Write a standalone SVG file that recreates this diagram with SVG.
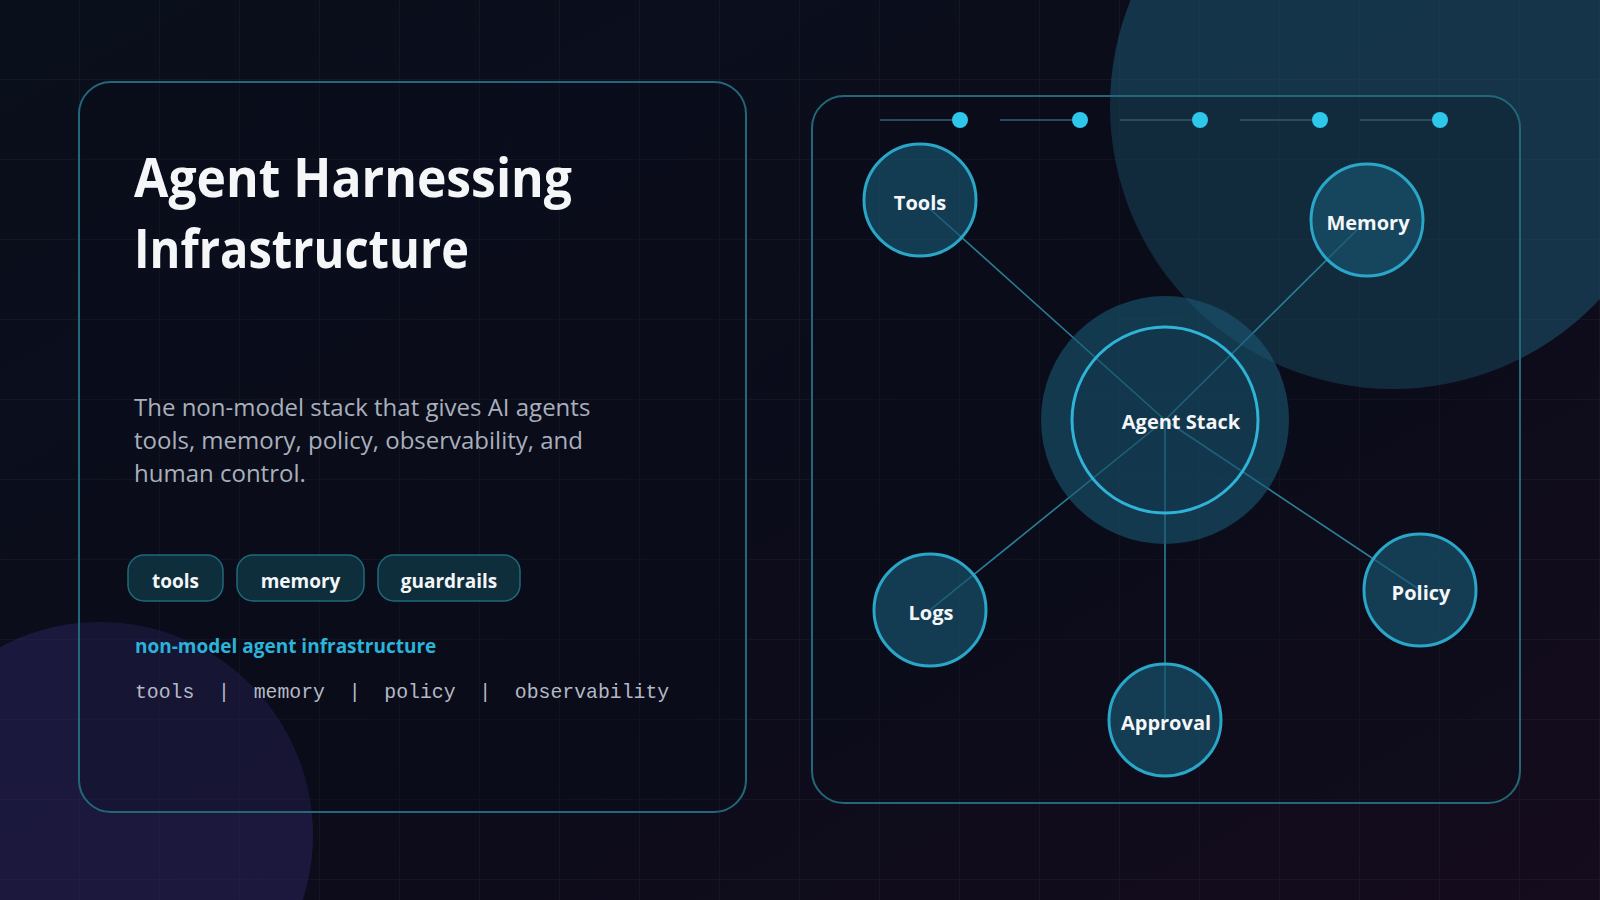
<svg xmlns="http://www.w3.org/2000/svg" width="1600" height="900" viewBox="0 0 1600 900">
  <defs>
    <linearGradient id="bg" x1="0" y1="0" x2="1" y2="1">
      <stop offset="0" stop-color="#0a0f1c"/>
      <stop offset="0.6" stop-color="#0c0c1b"/>
      <stop offset="1" stop-color="#150c1d"/>
    </linearGradient>
    <pattern id="grid" x="0" y="0" width="80" height="80" patternUnits="userSpaceOnUse">
      <path d="M80 0 V80 M0 80 H80" fill="none" stroke="#ffffff" stroke-opacity="0.045" stroke-width="1.5"/>
    </pattern>
    <style>
      .card { fill: #080c18; fill-opacity: 0.25; stroke: #22687a; stroke-width: 2; }
      .title { font-family: "Open Sans", "Noto Sans", sans-serif; font-weight: 700; font-size: 53px; fill: #f4f6f8; }
      .sub { font-family: "Open Sans", "Noto Sans", sans-serif; font-size: 24px; fill: #a8b0bc; }
      .pill { fill: #0f2e3c; stroke: #1f6a7a; stroke-width: 1.5; }
      .pilltxt { font-family: "Open Sans", "Noto Sans", sans-serif; font-weight: 700; font-size: 19px; fill: #f4f6f8; text-anchor: middle; }
      .accent { font-family: "Open Sans", "Noto Sans", sans-serif; font-weight: 700; font-size: 19px; fill: #2bb3d9; }
      .mono { font-family: "Liberation Mono", "DejaVu Sans Mono", monospace; font-size: 19.8px; fill: #b4b9c6; }
      .tick { stroke: #2b4a60; stroke-width: 2; }
      .dot { fill: #2ec6ea; }
      .edge { stroke: #2a7f98; stroke-width: 1.6; fill: none; }
      .node { fill: #18546e; fill-opacity: 0.68; stroke: #2aa6c8; stroke-width: 3; }
      .halo { fill: #1a5a75; fill-opacity: 0.58; }
      .core { fill: #0f2e40; fill-opacity: 0.15; stroke: #2fb3d6; stroke-width: 3; }
      .label { font-family: "Open Sans", "Noto Sans", sans-serif; font-weight: 700; font-size: 20px; fill: #f4f6f8; text-anchor: middle; }
    </style>
  </defs>

  <rect width="1600" height="900" fill="url(#bg)"/>
  <rect width="1600" height="900" fill="url(#grid)"/>

  <circle cx="1393" cy="106" r="283" fill="#1d5670" fill-opacity="0.55"/>
  <circle cx="100" cy="835" r="213" fill="#2b2360" fill-opacity="0.5"/>

  <g id="left-card">
    <rect class="card" x="79" y="82" width="667" height="730" rx="32"/>
    <text class="title" x="134" y="197" textLength="438" lengthAdjust="spacingAndGlyphs">Agent Harnessing</text>
    <text class="title" x="134" y="268" textLength="335" lengthAdjust="spacingAndGlyphs">Infrastructure</text>
    <text class="sub" x="134" y="416">The non-model stack that gives AI agents</text>
    <text class="sub" x="134" y="449">tools, memory, policy, observability, and</text>
    <text class="sub" x="134" y="482">human control.</text>
    <g id="pill-tools">
      <rect class="pill" x="128" y="555" width="95" height="46" rx="16"/>
      <text class="pilltxt" x="175.5" y="588">tools</text>
    </g>
    <g id="pill-memory">
      <rect class="pill" x="237" y="555" width="127" height="46" rx="16"/>
      <text class="pilltxt" x="300.5" y="588">memory</text>
    </g>
    <g id="pill-guardrails">
      <rect class="pill" x="378" y="555" width="142" height="46" rx="16"/>
      <text class="pilltxt" x="449" y="588">guardrails</text>
    </g>
    <text class="accent" x="135" y="653">non-model agent infrastructure</text>
    <text class="mono" x="135" y="698" xml:space="preserve">tools  |  memory  |  policy  |  observability</text>
  </g>

  <g id="right-card">
    <rect class="card" x="812" y="96" width="708" height="707" rx="32"/>
    <g id="progress">
      <line class="tick" x1="880" y1="120" x2="952" y2="120"/>
      <circle class="dot" cx="960" cy="120" r="8"/>
      <line class="tick" x1="1000" y1="120" x2="1072" y2="120"/>
      <circle class="dot" cx="1080" cy="120" r="8"/>
      <line class="tick" x1="1120" y1="120" x2="1192" y2="120"/>
      <circle class="dot" cx="1200" cy="120" r="8"/>
      <line class="tick" x1="1240" y1="120" x2="1312" y2="120"/>
      <circle class="dot" cx="1320" cy="120" r="8"/>
      <line class="tick" x1="1360" y1="120" x2="1432" y2="120"/>
      <circle class="dot" cx="1440" cy="120" r="8"/>
    </g>
  </g>

  <g id="connectors">
    <line class="edge" x1="1165" y1="420" x2="920" y2="200"/>
    <line class="edge" x1="1165" y1="420" x2="1367" y2="220"/>
    <line class="edge" x1="1165" y1="420" x2="930" y2="610"/>
    <line class="edge" x1="1165" y1="420" x2="1420" y2="590"/>
    <line class="edge" x1="1165" y1="420" x2="1165" y2="720"/>
  </g>

  <g id="node-agent-stack">
    <circle class="halo" cx="1165" cy="420" r="124"/>
    <circle class="core" cx="1165" cy="420" r="93"/>
    <text class="label" x="1181" y="429">Agent Stack</text>
  </g>
  <g id="node-tools">
    <circle class="node" cx="920" cy="200" r="56"/>
    <text class="label" x="920" y="210">Tools</text>
  </g>
  <g id="node-memory">
    <circle class="node" cx="1367" cy="220" r="56"/>
    <text class="label" x="1368" y="230">Memory</text>
  </g>
  <g id="node-logs">
    <circle class="node" cx="930" cy="610" r="56"/>
    <text class="label" x="931" y="620">Logs</text>
  </g>
  <g id="node-policy">
    <circle class="node" cx="1420" cy="590" r="56"/>
    <text class="label" x="1421" y="600">Policy</text>
  </g>
  <g id="node-approval">
    <circle class="node" cx="1165" cy="720" r="56"/>
    <text class="label" x="1166" y="730">Approval</text>
  </g>
</svg>
